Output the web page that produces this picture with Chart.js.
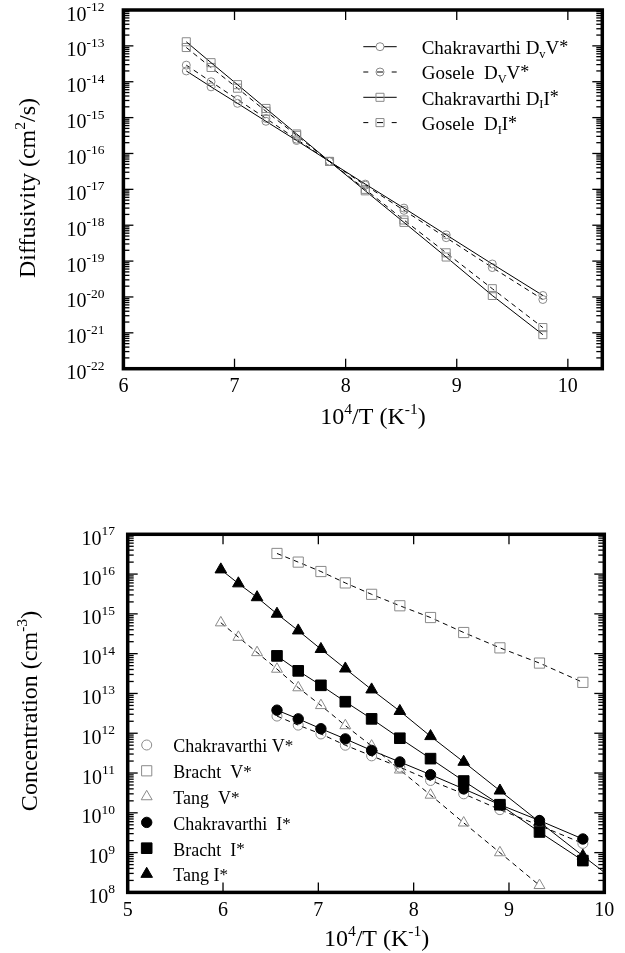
<!DOCTYPE html>
<html><head><meta charset="utf-8">
<script src="https://cdn.jsdelivr.net/npm/chart.js@4.4.1/dist/chart.umd.min.js"></script>
<style>
html,body{margin:0;padding:0;background:#fff;}
#wrap{position:relative;width:625px;height:953px;overflow:hidden;background:#fff}
.box{position:absolute;left:0;width:625px}
#b1{top:0;height:480px}
#b2{top:480px;height:473px}
</style></head><body>
<div id="wrap"><div class="box" id="b1"><canvas id="c1"></canvas></div><div class="box" id="b2"><canvas id="c2"></canvas></div></div>
<script>
// ---------------- DATA ----------------
// Top chart: diffusivity vs 10^4/T
const topX = [6.566, 6.789, 7.027, 7.283, 7.559, 7.855, 8.177, 8.525, 8.905, 9.320, 9.775];
const chakDvV = [2.0e-14, 7.2e-15, 2.5e-15, 7.9e-16, 2.3e-16, 6.0e-17, 1.4e-17, 3.0e-18, 5.4e-19, 8.3e-20, 1.1e-20];
const goseleDvV = [2.9e-14, 1.0e-14, 3.2e-15, 9.5e-16, 2.5e-16, 6.0e-17, 1.3e-17, 2.6e-18, 4.5e-19, 6.6e-20, 8.5e-21];
const chakDII = [1.3e-13, 3.4e-14, 8.3e-15, 1.8e-15, 3.5e-16, 6.0e-17, 9.1e-18, 1.2e-18, 1.3e-19, 1.1e-20, 8.9e-22];
const goseleDII = [9.0e-14, 2.5e-14, 6.6e-15, 1.5e-15, 3.2e-16, 6.0e-17, 1.0e-17, 1.4e-18, 1.7e-19, 1.7e-20, 1.4e-21];
const topXTicks = [6, 7, 8, 9, 10];
const topYExps = [-12, -13, -14, -15, -16, -17, -18, -19, -20, -21, -22];
const topLegend = ["Chakravarthi D_{v}V^{*}", "Gosele  D_{V}V^{*}", "Chakravarthi D_{I}I^{*}", "Gosele  D_{I}I^{*}"];
const topXTitle = "10^{4}/T (K^{-1})";
const topYTitle = "Diffusivity (cm^{2}/s)";

// Bottom chart: concentration vs 10^4/T
const botX = [6.566, 6.789, 7.027, 7.283, 7.559, 7.855, 8.177, 8.525, 8.905, 9.320, 9.775];
const tangVX = [5.977, 6.161, 6.357, 6.566, 6.789, 7.027, 7.283, 7.559, 7.855, 8.177, 8.525, 8.905, 9.320];
const tangIX = [5.977, 6.161, 6.357, 6.566, 6.789, 7.027, 7.283, 7.559, 7.855, 8.177, 8.525, 8.905, 9.320, 9.775, 10.0];
const chakV = [2.7e12, 1.6e12, 9.6e11, 5.0e11, 2.7e11, 1.4e11, 6.5e10, 3.0e10, 1.2e10, 4.8e9, 1.7e9];
const brachtV = [3.3e16, 2.0e16, 1.16e16, 6.0e15, 3.1e15, 1.6e15, 8.1e14, 3.4e14, 1.4e14, 5.8e13, 1.9e13];
const tangV = [6.0e14, 2.6e14, 1.07e14, 4.1e13, 1.4e13, 5.0e12, 1.56e12, 4.8e11, 1.2e11, 2.8e10, 5.6e9, 1.0e9, 1.5e8];
const chakI = [3.8e12, 2.3e12, 1.3e12, 7.2e11, 3.7e11, 1.9e11, 9.1e10, 4.0e10, 1.6e10, 6.4e9, 2.2e9];
const brachtI = [8.8e13, 3.7e13, 1.6e13, 6.2e12, 2.3e12, 7.5e11, 2.3e11, 6.3e10, 1.6e10, 3.3e9, 6.3e8];
const tangI = [1.3e16, 5.8e15, 2.6e15, 1.0e15, 3.8e14, 1.3e14, 4.2e13, 1.25e13, 3.6e12, 8.4e11, 1.9e11, 3.6e10, 5.9e9, 8.3e8, 3.2e8];
const botXTicks = [5, 6, 7, 8, 9, 10];
const botYExps = [17, 16, 15, 14, 13, 12, 11, 10, 9, 8];
const botLegend = ["Chakravarthi V^{*}", "Bracht  V^{*}", "Tang  V^{*}", "Chakravarthi  I^{*}", "Bracht  I^{*}", "Tang I^{*}"];
const botXTitle = "10^{4}/T (K^{-1})";
const botYTitle = "Concentration (cm^{-3})";

// ---------------- HELPERS ----------------
const SERIF = "'Liberation Serif','Times New Roman',Times,serif";
const GRAY = '#8a8a8a';
function parseRich(s) {
  const parts = []; let i = 0, buf = '';
  while (i < s.length) {
    const c = s[i];
    if ((c === '^' || c === '_') && s[i + 1] === '{') {
      if (buf) { parts.push({t: buf}); buf = ''; }
      const j = s.indexOf('}', i);
      parts.push({t: s.slice(i + 2, j), sup: c === '^', sub: c === '_'});
      i = j + 1;
    } else { buf += c; i++; }
  }
  if (buf) parts.push({t: buf});
  return parts;
}
function plain(s) { return s.replace(/[\^_]\{([^}]*)\}/g, '$1'); }
function partSpec(p, size) {
  if (p.sup && p.t === '*') return {size: size * 0.95, dy: -size * 0.06};
  if (p.sup) return {size: size * 0.65, dy: -size * 0.42};
  if (p.sub) return {size: size * 0.65, dy: size * 0.2};
  return {size: size, dy: 0};
}
function richWidth(ctx, parts, size) {
  let w = 0;
  for (const p of parts) { const sp = partSpec(p, size); ctx.font = sp.size + 'px ' + SERIF; w += ctx.measureText(p.t).width; }
  return w;
}
function drawRich(ctx, s, x, y, size, align) {
  const parts = parseRich(s);
  const w = richWidth(ctx, parts, size);
  let cx = align === 'center' ? x - w / 2 : (align === 'right' ? x - w : x);
  ctx.textAlign = 'left'; ctx.textBaseline = 'alphabetic'; ctx.fillStyle = '#000';
  for (const p of parts) {
    const sp = partSpec(p, size);
    ctx.font = sp.size + 'px ' + SERIF;
    ctx.fillText(p.t, cx, y + sp.dy);
    cx += ctx.measureText(p.t).width;
  }
}
function pts(xs, ys) { return xs.map((x, i) => ({x: x, y: ys[i]})); }
function marker(ctx, st, x, y) {
  ctx.save();
  ctx.lineWidth = 1;
  ctx.strokeStyle = st.stroke; ctx.fillStyle = st.fill;
  const r = st.r;
  ctx.beginPath();
  if (st.shape === 'circle') ctx.arc(x, y, r, 0, Math.PI * 2);
  else if (st.shape === 'rect') { const s = r * Math.SQRT1_2; ctx.rect(x - s, y - s, 2 * s, 2 * s); }
  else if (st.shape === 'triangle') {
    let a = 0;
    ctx.moveTo(x + Math.sin(a) * r, y - Math.cos(a) * r);
    a += 2 * Math.PI / 3; ctx.lineTo(x + Math.sin(a) * r, y - Math.cos(a) * r);
    a += 2 * Math.PI / 3; ctx.lineTo(x + Math.sin(a) * r, y - Math.cos(a) * r);
    ctx.closePath();
  }
  ctx.fill(); ctx.stroke();
  ctx.restore();
}
function line(ctx, x1, y1, x2, y2) { ctx.beginPath(); ctx.moveTo(x1, y1); ctx.lineTo(x2, y2); ctx.stroke(); }

function framePlugin(cfg) {
  return {
    id: 'frame_' + cfg.name,
    afterDraw(chart) {
      const ctx = chart.ctx, a = chart.chartArea, xs = chart.scales.x, ys = chart.scales.y;
      ctx.save();
      ctx.strokeStyle = '#000'; ctx.lineWidth = 1.3;
      // x major ticks (inward, top and bottom)
      for (const v of cfg.xTicks) {
        const px = xs.getPixelForValue(v);
        line(ctx, px, a.bottom, px, a.bottom - 10);
        line(ctx, px, a.top, px, a.top + 10);
      }
      // y ticks (inward, left and right)
      const minE = Math.min(...cfg.yExps), maxE = Math.max(...cfg.yExps);
      for (let e = minE; e <= maxE; e++) {
        for (let k = 1; k <= 9; k++) {
          if (e === maxE && k > 1) break;
          const py = ys.getPixelForValue(k * Math.pow(10, e));
          const len = k === 1 ? 10 : 6;
          line(ctx, a.left, py, a.left + len, py);
          line(ctx, a.right, py, a.right - len, py);
        }
      }
      // frame
      ctx.lineWidth = 3.5;
      ctx.strokeRect(a.left, a.top, a.right - a.left, a.bottom - a.top);
      // y tick labels (10 with superscript exponent)
      ctx.fillStyle = '#000'; ctx.textBaseline = 'alphabetic'; ctx.textAlign = 'left';
      for (const e of cfg.yExps) {
        const py = ys.getPixelForValue(Math.pow(10, e));
        const R = a.left - cfg.yLabelGap;
        const es = String(e);
        ctx.font = '13.5px ' + SERIF;
        const ew = ctx.measureText(es).width;
        ctx.fillText(es, R - ew, py + 1);
        ctx.font = '20px ' + SERIF;
        const bw = ctx.measureText('10').width;
        ctx.fillText('10', R - ew - bw, py + 10.5);
      }
      // axis titles
      drawRich(ctx, cfg.xTitle, cfg.xTitlePos[0], cfg.xTitlePos[1], 24, 'center');
      ctx.save();
      ctx.translate(cfg.yTitlePos[0], cfg.yTitlePos[1]);
      ctx.rotate(-Math.PI / 2);
      drawRich(ctx, cfg.yTitle, 0, 0, 24, 'center');
      ctx.restore();
      // legend
      const L = cfg.legend;
      L.items.forEach((it, i) => {
        const cy = L.y0 + i * L.dy;
        ctx.strokeStyle = '#000'; ctx.lineWidth = 1;
        if (it.line === 'solid') {
          if (it.st.shape === 'circle') {
            line(ctx, L.lineX[0], cy, L.markX - it.st.r, cy);
            line(ctx, L.markX + it.st.r, cy, L.lineX[1], cy);
          } else line(ctx, L.lineX[0], cy, L.lineX[1], cy);
        } else if (it.line === 'dashed') {
          line(ctx, L.lineX[0], cy, L.lineX[0] + 5, cy);
          line(ctx, L.markX - 3, cy, L.markX + 3, cy);
          line(ctx, L.lineX[1] - 5, cy, L.lineX[1], cy);
        }
        marker(ctx, it.st, L.markX, cy);
        drawRich(ctx, it.text, L.textX, cy + L.baseOff, L.size, 'left');
      });
      ctx.restore();
    }
  };
}

function makeChart(id, cfg, datasets) {
  return new Chart(document.getElementById(id), {
    type: 'line',
    data: {datasets: datasets},
    options: {
      responsive: true, maintainAspectRatio: false, animation: false, events: [],
      layout: {padding: {left: 0, right: cfg.padRight, top: cfg.padTop, bottom: 0}},
      plugins: {legend: {display: false}, tooltip: {enabled: false}, title: {display: false}},
      elements: {line: {tension: 0}},
      scales: {
        x: {
          type: 'linear', min: cfg.xMin, max: cfg.xMax,
          afterBuildTicks: s => { s.ticks = cfg.xTicks.map(v => ({value: v})); },
          ticks: {font: {family: SERIF, size: 20}, color: '#000', padding: 6, includeBounds: false,
                  maxRotation: 0, autoSkip: false, callback: v => String(v)},
          grid: {display: false, drawTicks: false}, border: {display: false},
          afterFit: s => { s.height = cfg.xHeight; s.paddingLeft = 0; s.paddingRight = 0; }
        },
        y: {
          type: 'logarithmic', min: cfg.yMin, max: cfg.yMax,
          ticks: {display: false}, grid: {display: false, drawTicks: false}, border: {display: false},
          afterFit: s => { s.width = cfg.yWidth; s.paddingTop = 0; s.paddingBottom = 0; }
        }
      }
    },
    plugins: [framePlugin(cfg)]
  });
}

// ---------------- TOP CHART ----------------
const stCircTop = {shape: 'circle', r: 4, stroke: GRAY, fill: 'rgba(0,0,0,0)'};
const stRectTop = {shape: 'rect', r: 5.7, stroke: GRAY, fill: 'rgba(0,0,0,0)'};
function ds(label, xs, ys, st, dashed, order) {
  return {
    label: plain(label), data: pts(xs, ys), order: order,
    borderColor: '#000', borderWidth: 1, borderDash: dashed ? [5, 4] : [],
    pointStyle: st.shape, pointRadius: st.r, pointBorderColor: st.stroke, pointBackgroundColor: st.fill,
    pointBorderWidth: 1, fill: false, showLine: true
  };
}
makeChart('c1', {
  name: 'top', xMin: 6, xMax: 10.31, yMin: 1e-22, yMax: 1e-12,
  padRight: 22.7, padTop: 10, xHeight: 111.3, yWidth: 123.4,
  xTicks: topXTicks, yExps: topYExps, yLabelGap: 19,
  xTitle: topXTitle, xTitlePos: [373, 424], yTitle: topYTitle, yTitlePos: [35, 188],
  legend: {
    lineX: [363.3, 396.7], markX: 380, textX: 421.7, y0: 46.7, dy: 25.3, baseOff: 7.3, size: 19,
    items: [
      {text: topLegend[0], line: 'solid', st: stCircTop},
      {text: topLegend[1], line: 'dashed', st: stCircTop},
      {text: topLegend[2], line: 'solid', st: stRectTop},
      {text: topLegend[3], line: 'dashed', st: stRectTop}
    ]
  }
}, [
  ds(topLegend[0], topX, chakDvV, stCircTop, false, 0),
  ds(topLegend[1], topX, goseleDvV, stCircTop, true, 1),
  ds(topLegend[2], topX, chakDII, stRectTop, false, 0),
  ds(topLegend[3], topX, goseleDII, stRectTop, true, 1)
]);

// ---------------- BOTTOM CHART ----------------
const stOC = {shape: 'circle', r: 5, stroke: GRAY, fill: 'rgba(0,0,0,0)'};
const stOS = {shape: 'rect', r: 7.2, stroke: GRAY, fill: 'rgba(0,0,0,0)'};
const stOT = {shape: 'triangle', r: 6.3, stroke: GRAY, fill: 'rgba(0,0,0,0)'};
const stFC = {shape: 'circle', r: 5.2, stroke: '#000', fill: '#000'};
const stFS = {shape: 'rect', r: 7.5, stroke: '#000', fill: '#000'};
const stFT = {shape: 'triangle', r: 6.7, stroke: '#000', fill: '#000'};
const tangIds = ds(botLegend[5], tangIX, tangI, stFT, false, 0);
tangIds.pointRadius = c => (c.parsed && c.parsed.x >= 10) ? 0 : stFT.r;
makeChart('c2', {
  name: 'bot', xMin: 5, xMax: 10, yMin: 1e8, yMax: 1e17,
  padRight: 20.7, padTop: 54.3, xHeight: 60.6, yWidth: 127.7,
  xTicks: botXTicks, yExps: botYExps, yLabelGap: 12.6,
  xTitle: botXTitle, xTitlePos: [376.6, 466], yTitle: botYTitle, yTitlePos: [37, 231],
  legend: {
    lineX: null, markX: 146.7, textX: 173.3, y0: 265, dy: 25.8, baseOff: 7.3, size: 18,
    items: [
      {text: botLegend[0], line: null, st: stOC},
      {text: botLegend[1], line: null, st: stOS},
      {text: botLegend[2], line: null, st: stOT},
      {text: botLegend[3], line: null, st: stFC},
      {text: botLegend[4], line: null, st: stFS},
      {text: botLegend[5], line: null, st: stFT}
    ]
  }
}, [
  ds(botLegend[0], botX, chakV, stOC, true, 1),
  ds(botLegend[1], botX, brachtV, stOS, true, 1),
  ds(botLegend[2], tangVX, tangV, stOT, true, 1),
  ds(botLegend[3], botX, chakI, stFC, false, 0),
  ds(botLegend[4], botX, brachtI, stFS, false, 0),
  tangIds
]);
</script>
</body></html>
